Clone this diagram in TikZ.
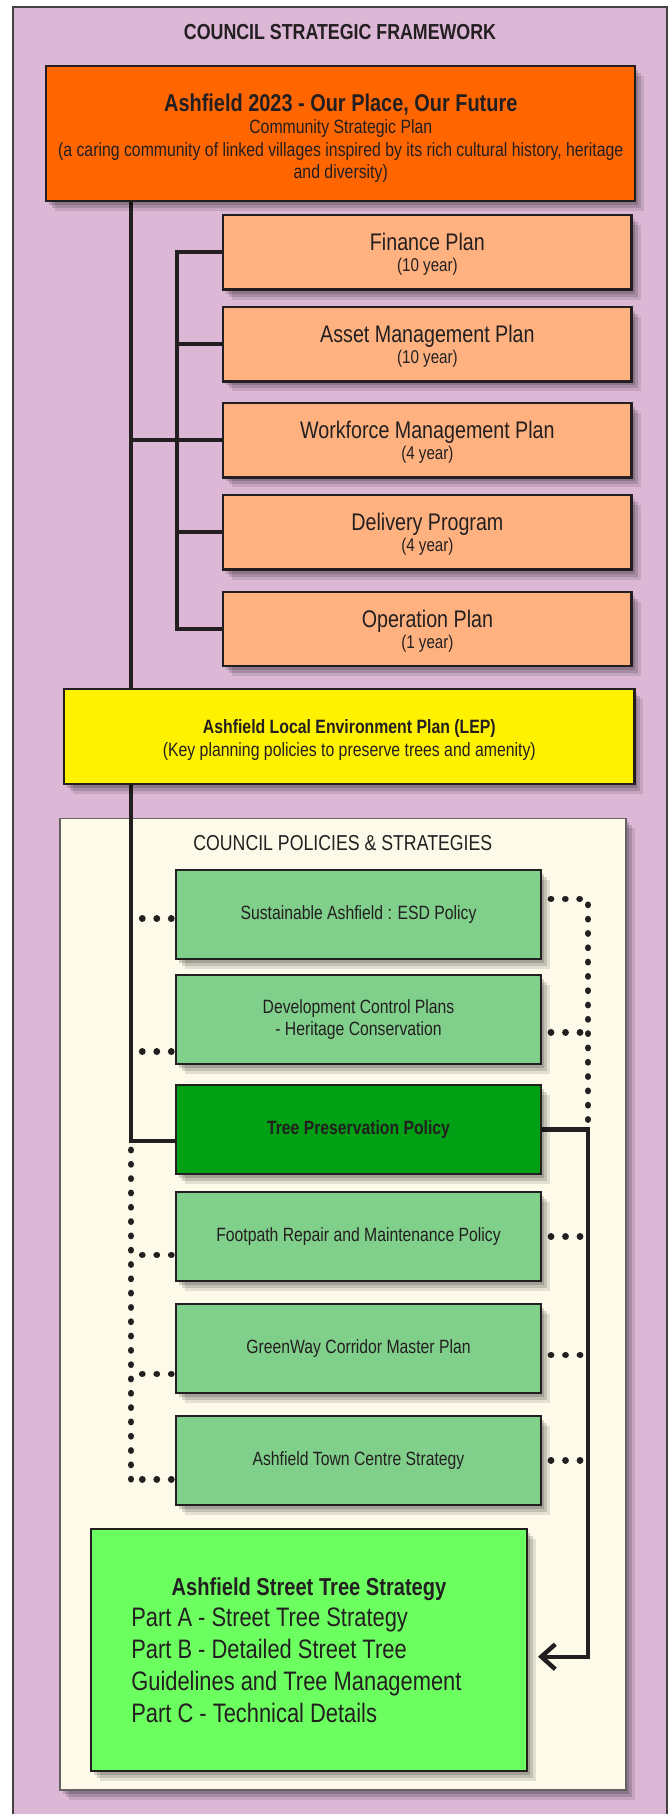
\documentclass[tikz,border=0pt]{standalone}
\usepackage{fontspec}
\setmainfont{Liberation Sans}[FakeStretch=0.82]
\usetikzlibrary{shadows,arrows.meta}
\definecolor{framebg}{HTML}{DCB7D6}
\definecolor{ink}{HTML}{231F20}
\definecolor{csporange}{HTML}{FF6600}
\definecolor{planorange}{HTML}{FFB280}
\definecolor{lepyellow}{HTML}{FFF200}
\definecolor{creambg}{HTML}{FDFAE9}
\definecolor{polgreen}{HTML}{80CF8B}
\definecolor{treegreen}{HTML}{00A014}
\definecolor{stgreen}{HTML}{6CFF60}
\newcommand{\fsz}[2]{\fontsize{#1}{#2}\selectfont}
\pgfdeclarelayer{backdrop}
\pgfdeclarelayer{wires}
\pgfsetlayers{backdrop,wires,main}
\tikzset{
  softshadow/.style={
    drop shadow={shadow xshift=3pt,shadow yshift=-4pt,opacity=.16,fill=black},
    drop shadow={shadow xshift=6pt,shadow yshift=-7pt,opacity=.14,fill=black},
    drop shadow={shadow xshift=9pt,shadow yshift=-10pt,opacity=.10,fill=black}},
  box/.style={draw=ink,line width=2.3pt,text=ink,inner sep=0pt,outer sep=0pt,
    align=center,anchor=north west,softshadow},
  planbox/.style={box,fill=planorange,minimum width=408.2pt,minimum height=74.5pt,
    font=\fsz{18.5}{21}},
  polbox/.style={box,fill=polgreen,minimum width=365.4pt,minimum height=88.7pt,
    font=\fsz{19.2}{22.3}},
  wire/.style={draw=ink,line width=4.4pt},
  dotwire/.style={draw=ink,line width=6.8pt,line cap=round,dash pattern=on 0.01pt off 14.5pt},
  vdotwire/.style={draw=ink,line width=6.8pt,line cap=round,dash pattern=on 0.01pt off 14.3pt},
  plaintext/.style={text=ink,inner sep=0pt,outer sep=0pt},
}
\begin{document}
\begin{tikzpicture}[x=1pt,y=-1pt]
\useasboundingbox (0,0) rectangle (670,1814);
\begin{pgfonlayer}{backdrop}
\fill[white] (0,0) rectangle (670,1814);
\draw[fill=framebg,draw=ink!85,line width=2.5pt] (13,7) rectangle (667,1850);
\node[draw=ink!70,line width=1.5pt,fill=creambg,inner sep=0pt,outer sep=0pt,anchor=north west,
  minimum width=566pt,minimum height=971.7pt,softshadow] (cream) at (59.9,818.3) {};
\end{pgfonlayer}

\node[plaintext,font=\fsz{21.7}{26}\bfseries,anchor=base] (title) at (340,39.5) {COUNCIL STRATEGIC FRAMEWORK};

\node[box,fill=csporange,minimum width=589.1pt,minimum height=135.3pt,font=\fsz{19.3}{22.5}] (csp) at (46.2,66)
  {\rule{0pt}{27pt}{\fsz{24.3}{22.5}\bfseries Ashfield 2023 - Our Place, Our Future}\\Community Strategic Plan\\(a caring community of linked villages inspired by its rich cultural history, heritage\\and diversity)};

\node[planbox] (fin) at (223.3,215) {\rule{0pt}{22pt}{\fsz{24}{21}Finance Plan}\\(10 year)};
\node[planbox] (asset) at (223.3,306.9) {\rule{0pt}{22pt}{\fsz{24}{21}Asset Management Plan}\\(10 year)};
\node[planbox] (work) at (223.3,402.9) {\rule{0pt}{22pt}{\fsz{24}{21}Workforce Management Plan}\\(4 year)};
\node[planbox] (deliv) at (223.3,495) {\rule{0pt}{22pt}{\fsz{24}{21}Delivery Program}\\(4 year)};
\node[planbox] (op) at (223.3,591.7) {\rule{0pt}{22pt}{\fsz{24}{21}Operation Plan}\\(1 year)};

\node[box,fill=lepyellow,minimum width=570.2pt,minimum height=95pt,font=\fsz{19.3}{22.7}] (lep) at (64.2,689.3)
  {\rule{0pt}{20pt}{\bfseries Ashfield Local Environment Plan (LEP)}\\(Key planning policies to preserve trees and amenity)};

\node[plaintext,font=\fsz{21.6}{26},anchor=base] (poltitle) at (342.8,850) {COUNCIL POLICIES \& STRATEGIES};

\node[polbox] (sus) at (175.8,870) {Sustainable Ashfield : ESD Policy};
\node[polbox] (dev) at (175.8,975) {Development Control Plans\\- Heritage Conservation};
\node[polbox,fill=treegreen,font=\fsz{19.2}{22.3}\bfseries] (tree) at (175.8,1085) {Tree Preservation Policy};
\node[polbox] (foot) at (175.8,1192.3) {Footpath Repair and Maintenance Policy};
\node[polbox] (green) at (175.8,1304) {GreenWay Corridor Master Plan};
\node[polbox] (town) at (175.8,1416) {Ashfield Town Centre Strategy};

\node[box,fill=stgreen,minimum width=435.9pt,minimum height=241.4pt] (street) at (91.1,1529.3) {};
\node[plaintext,font=\fsz{24.5}{28}\bfseries,anchor=base] (sttitle) at (309,1595) {Ashfield Street Tree Strategy};
\node[plaintext,font=\fsz{26.7}{31.9},anchor=base west] (partA) at (131.3,1626.7) {Part A - Street Tree Strategy};
\node[plaintext,font=\fsz{26.7}{31.9},anchor=base west] (partB) at (131.3,1658.6) {Part B - Detailed Street Tree};
\node[plaintext,font=\fsz{26.7}{31.9},anchor=base west] (partB2) at (131.3,1690.5) {Guidelines and Tree Management};
\node[plaintext,font=\fsz{26.7}{31.9},anchor=base west] (partC) at (131.3,1722.4) {Part C - Technical Details};

\begin{pgfonlayer}{wires}
\coordinate (spx) at (131,0);
\coordinate (brx) at (176.7,0);
\coordinate (rx) at (588,0);
% main spine
\draw[wire] (spx |- csp.south) |- ([yshift=-11.5pt]tree.west);
% plan branch
\draw[wire] (spx |- work.west) -- (work.west);
\draw[wire] (fin.west) -| (brx |- op.west) -- (op.west);
\draw[wire] (asset.west) -- (brx |- asset.west);
\draw[wire] (deliv.west) -- (brx |- deliv.west);
% left dotted links
\coordinate (susL) at ([yshift=-4.2pt]sus.west);
\coordinate (devL) at ([yshift=-32.2pt]dev.west);
\coordinate (footL) at ([yshift=-18.3pt]foot.west);
\coordinate (greenL) at ([yshift=-25.6pt]green.west);
\coordinate (townL) at ([yshift=-18.8pt]town.west);
\coordinate (treeL) at ([yshift=-20.5pt]tree.west);
\foreach \c in {susL,devL,footL,greenL,townL}
  \draw[dotwire,shorten <=4.5pt] (\c) -- (spx |- \c);
\draw[vdotwire] (spx |- townL) -- (spx |- treeL);
% right dotted links
\coordinate (susR) at ([yshift=15.45pt]sus.east);
\coordinate (devR) at ([yshift=-12.8pt]dev.east);
\coordinate (greenR) at ([yshift=-6.65pt]green.east);
\draw[vdotwire,shorten <=9.8pt] (susR) -| (rx |- tree.east);
\foreach \c in {devR,foot.east,greenR,town.east}
  \draw[dotwire,shorten <=9.8pt] (\c) -- (rx |- \c);
% tree policy to street tree strategy
\coordinate (stR) at ([yshift=-6.7pt]street.east);
\draw[wire,shorten >=11pt,-{Straight Barb[length=14pt,width=25pt]}] (tree.east) -| (rx |- stR) -- (stR);
\end{pgfonlayer}
\end{tikzpicture}
\end{document}
